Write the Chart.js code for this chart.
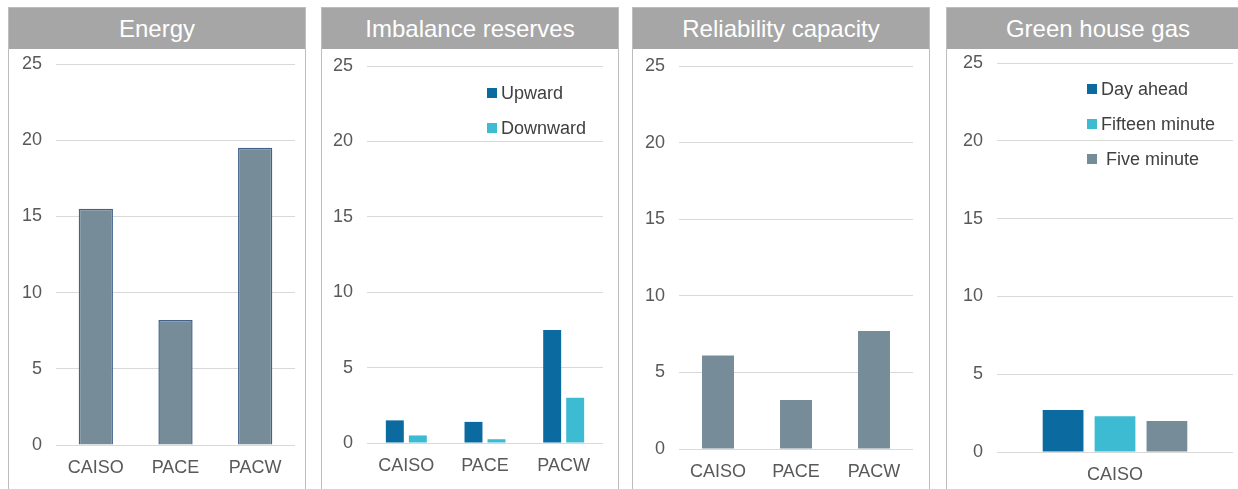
<!DOCTYPE html>
<html>
<head>
<meta charset="utf-8">
<script src="https://cdn.jsdelivr.net/npm/chart.js@4"></script>
<style>
  body { margin: 0; background: #fff; width: 1238px; height: 489px; overflow: hidden; position: relative; font-family: "Liberation Sans", Arial, sans-serif; }
  .panel { position: absolute; top: 7px; height: 500px; border: 1px solid #bdbdbd; box-sizing: border-box; }
  .head { height: 41px; background: #a6a6a6; color: #fff; font-size: 24px; line-height: 42px; text-align: center; }
  canvas { position: absolute; }
  .legend { position: absolute; font-size: 18px; color: #404040; }
  .legend div { position: absolute; white-space: pre; line-height: 20px; }
  .legend span { display: inline-block; width: 10px; height: 10px; margin-right: 4px; vertical-align: 1px; }
</style>
</head>
<body>
<script>
const titles = ['Energy', 'Imbalance reserves', 'Reliability capacity', 'Green house gas'];
const regions = ['CAISO', 'PACE', 'PACW'];
const ghgRegions = ['CAISO'];
const yTicks = [0, 5, 10, 15, 20, 25];

const energyValues = [15.5, 8.2, 19.5];
const upwardValues = [1.5, 1.4, 7.5];
const downwardValues = [0.5, 0.25, 3.0];
const reliabilityValues = [6.1, 3.2, 7.7];
const dayAheadValues = [2.7];
const fifteenMinuteValues = [2.3];
const fiveMinuteValues = [2.0];

const darkBlue = '#0b6a9f';
const cyan = '#3dbbd3';
const slate = '#778c99';

// page geometry of each panel and its plot area
const layouts = [
  { left: 8, right: 306, plot: { l: 56, r: 295, t: 64, b: 445 } },
  { left: 321, right: 619, plot: { l: 367, r: 603, t: 66, b: 443 } },
  { left: 632, right: 930, plot: { l: 679, r: 913, t: 66, b: 449 } },
  { left: 946, right: 1250, plot: { l: 997, r: 1233, t: 63, b: 452 } }
];

const charts = [
  { labels: regions, cat: 1, bar: 0.43, datasets: [
      { label: 'Energy', data: energyValues, backgroundColor: slate, borderColor: '#44638c', borderWidth: 1.5 }] },
  { labels: regions, cat: 0.585, bar: 0.78, legend: { x: 487, y: 93 }, datasets: [
      { label: 'Upward', data: upwardValues, backgroundColor: darkBlue },
      { label: 'Downward', data: downwardValues, backgroundColor: cyan }] },
  { labels: regions, cat: 1, bar: 0.41, datasets: [
      { label: 'Reliability capacity', data: reliabilityValues, backgroundColor: slate }] },
  { labels: ghgRegions, cat: 0.66, bar: 0.785, legend: { x: 1087, y: 89 }, datasets: [
      { label: 'Day ahead', data: dayAheadValues, backgroundColor: darkBlue },
      { label: 'Fifteen minute', data: fifteenMinuteValues, backgroundColor: cyan },
      { label: ' Five minute', data: fiveMinuteValues, backgroundColor: slate }] }
];

const font = { family: '"Liberation Sans", Arial, sans-serif', size: 18 };
const canvasTop = 48;
const canvasBottom = 489;

charts.forEach((c, i) => {
  const lay = layouts[i];
  const panel = document.createElement('div');
  panel.className = 'panel';
  panel.style.left = lay.left + 'px';
  panel.style.width = (lay.right - lay.left) + 'px';
  panel.innerHTML = '<div class="head">' + titles[i] + '</div>';
  document.body.appendChild(panel);

  const cLeft = lay.left + 1;
  const cWidth = lay.right - lay.left - 2;
  const canvas = document.createElement('canvas');
  canvas.width = cWidth;
  canvas.height = canvasBottom - canvasTop;
  canvas.style.left = cLeft + 'px';
  canvas.style.top = canvasTop + 'px';
  document.body.appendChild(canvas);

  const p = lay.plot;
  new Chart(canvas.getContext('2d'), {
    type: 'bar',
    data: {
      labels: c.labels,
      datasets: c.datasets.map(d => Object.assign({ categoryPercentage: c.cat, barPercentage: c.bar }, d))
    },
    options: {
      responsive: false,
      animation: false,
      devicePixelRatio: 1,
      layout: { padding: { left: 0, right: cLeft + cWidth - p.r, top: p.t - canvasTop, bottom: 0 } },
      plugins: { legend: { display: false }, tooltip: { enabled: false } },
      scales: {
        x: {
          grid: { display: false },
          border: { display: false },
          ticks: { color: '#595959', font: font, padding: 4, maxRotation: 0 },
          afterFit: s => { s.height = canvasBottom - p.b; }
        },
        y: {
          min: 0, max: 25,
          afterBuildTicks: s => { s.ticks = yTicks.map(v => ({ value: v })); },
          grid: { color: '#d9d9d9', lineWidth: 1, drawTicks: false },
          border: { display: false },
          ticks: { color: '#595959', font: font, padding: 14 },
          afterFit: s => { s.width = p.l - cLeft; s.paddingTop = 0; s.paddingBottom = 0; }
        }
      }
    }
  });

  if (c.legend) {
    const lg = document.createElement('div');
    lg.className = 'legend';
    lg.style.left = c.legend.x + 'px';
    lg.style.top = (c.legend.y - 10) + 'px';
    c.datasets.forEach((d, k) => {
      const row = document.createElement('div');
      row.style.top = (k * 35) + 'px';
      row.innerHTML = '<span style="background:' + d.backgroundColor + '"></span>' + d.label;
      lg.appendChild(row);
    });
    document.body.appendChild(lg);
  }
});
</script>
</body>
</html>
